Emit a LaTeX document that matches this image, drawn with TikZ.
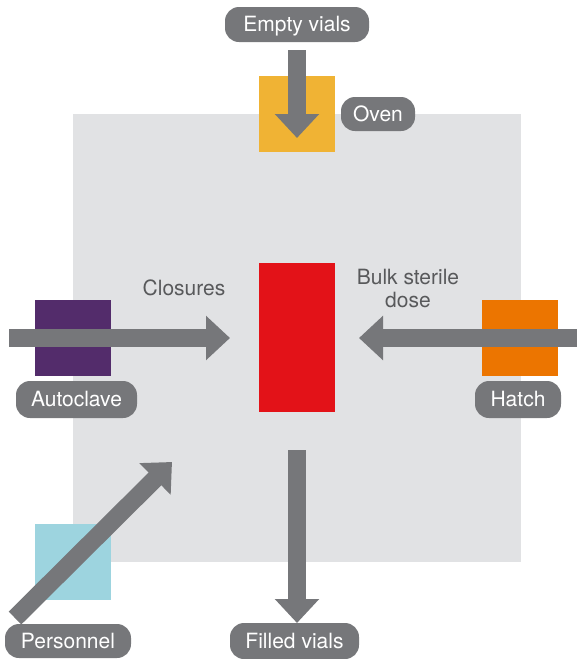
\documentclass[tikz,border=0pt]{standalone}
\usepackage{fontspec}
\setmainfont{TeX Gyre Heros}
\usetikzlibrary{arrows.meta}
\definecolor{bgray}{HTML}{E1E2E4}
\definecolor{pgray}{HTML}{76777A}
\definecolor{agray}{HTML}{76777A}
\definecolor{tgray}{HTML}{58595B}
\definecolor{ovenc}{HTML}{F0B334}
\definecolor{autoc}{HTML}{532C6B}
\definecolor{hatchc}{HTML}{EC7500}
\definecolor{persc}{HTML}{9DD4DF}
\definecolor{redc}{HTML}{E31218}
\tikzset{
  pill/.style={fill=pgray, text=white, rounded corners=14pt, inner sep=0pt,
    font=\fontsize{21}{23}\selectfont, anchor=center, text depth=1pt},
  sq/.style={minimum width=76pt, minimum height=76pt, inner sep=0pt, draw=none},
  flow/.style={draw=agray, line width=18pt,
    -{Triangle[width=43pt,length=24pt]}},
  lbl/.style={text=tgray, font=\fontsize{21}{23}\selectfont, align=center, inner sep=0pt},
}
\begin{document}
\begin{tikzpicture}[x=1pt,y=-1pt]
\useasboundingbox (0,0) rectangle (577,659);
% room
\node[fill=bgray, minimum width=448pt, minimum height=448pt, inner sep=0pt] (room) at (297,337.5) {};
% squares
\node[sq, fill=ovenc] (oven) at (297,114) {};
\node[sq, fill=autoc] (auto) at (73,338) {};
\node[sq, fill=hatchc] (hatch) at (520,338) {};
\node[sq, fill=persc] (pers) at (73,562) {};
\node[fill=redc, minimum width=76pt, minimum height=149pt, inner sep=0pt] (fill) at (297,337.5) {};
% labels
\node[lbl] (clos) at (184,288) {Closures};
\node[lbl] (bulk) at (408,288) {Bulk sterile\\dose};
% arrow end points
\coordinate (evS) at (297,50);
\coordinate (evT) at (297,138);
\coordinate (clS) at (9,338);
\coordinate (clT) at (230,338);
\coordinate (hS) at (577,338);
\coordinate (hT) at (359,338);
\coordinate (pS) at (15,618);
\coordinate (pT) at (172,462);
\coordinate (fS) at (297,450);
\coordinate (fT) at (297,623);
% arrows
\draw[flow] (evS) -- (evT);
\draw[flow] (clS) -- (clT);
\draw[flow] (hS) -- (hT);
\draw[flow] (pS) -- (pT);
\draw[flow] (fS) -- (fT);
% pills
\node[pill, minimum width=144pt, minimum height=35pt] (ev) at (297,24.5) {Empty vials};
\node[pill, minimum width=74pt, minimum height=34pt] (ovl) at (378,114) {Oven};
\node[pill, minimum width=121pt, minimum height=37pt] (aul) at (76.5,399.5) {Autoclave};
\node[pill, minimum width=86pt, minimum height=37pt] (hal) at (518,399.5) {Hatch};
\node[pill, minimum width=126pt, minimum height=34pt] (pel) at (68,641) {Personnel};
\node[pill, minimum width=129pt, minimum height=36pt] (fvl) at (294.5,641) {Filled vials};
\end{tikzpicture}
\end{document}
